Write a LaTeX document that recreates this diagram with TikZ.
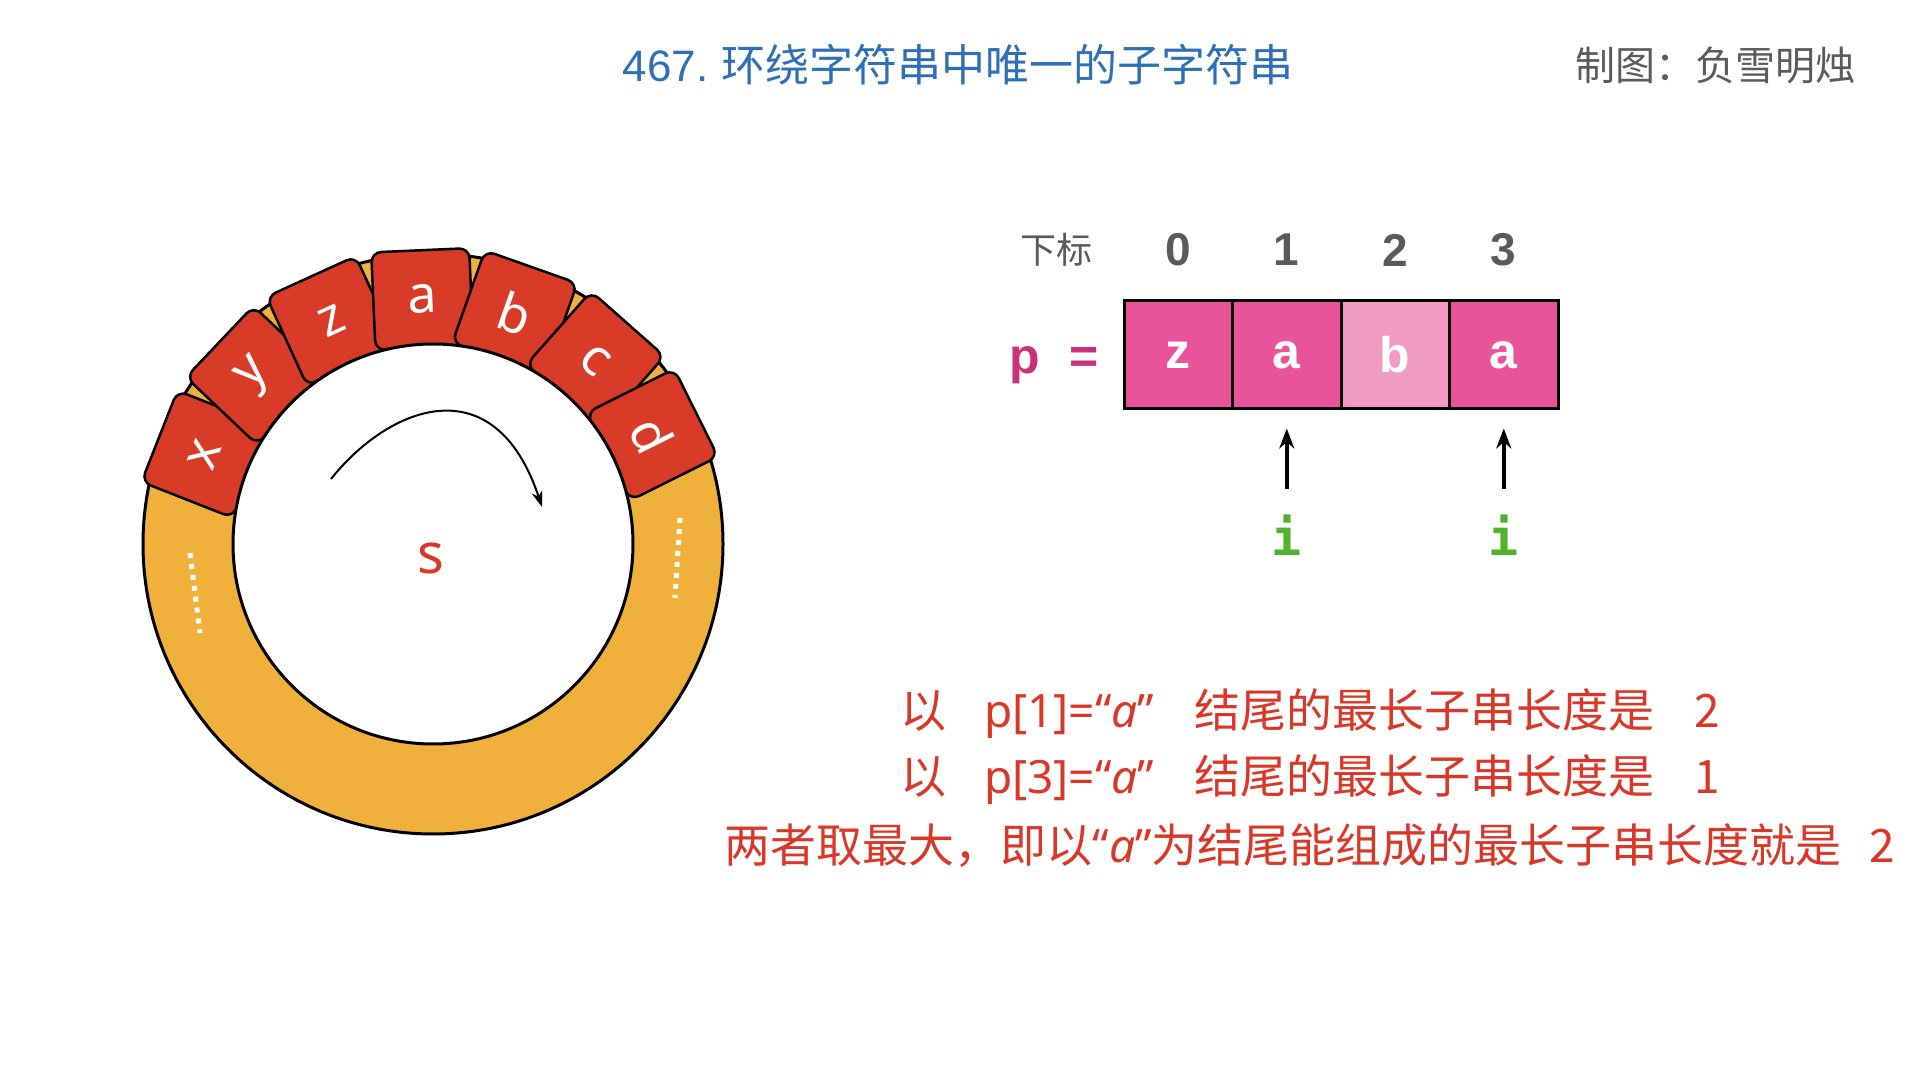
\documentclass[tikz,border=0pt]{standalone}
\usepackage{fontspec}
\setmainfont{Noto Sans CJK SC}
\newfontfamily\latinfont{Noto Sans}
\newfontfamily\arialfont{Liberation Sans}
\newfontfamily\codefont{DejaVu Sans Mono}
\usetikzlibrary{positioning, arrows.meta}
\newcommand{\fsz}[1]{\fontsize{#1}{#1}\selectfont}
\newcommand{\qa}{{\latinfont “\itshape a\upshape”}}
\definecolor{ringorange}{HTML}{F0B03C}
\definecolor{tilered}{HTML}{D83B27}
\definecolor{cellpink}{HTML}{E95399}
\definecolor{lightpink}{HTML}{F09AC4}
\definecolor{titleblue}{HTML}{2E6FB5}
\definecolor{idxgray}{HTML}{5A5A5A}
\definecolor{pgreen}{HTML}{52B22E}
\definecolor{pmagenta}{HTML}{C8327A}
\definecolor{textred}{HTML}{D93828}
\begin{document}
\begin{tikzpicture}[x=1pt, y=1pt, node distance = 108.5pt, auto,
  tile/.style = {draw, line width=2.5pt, fill=tilered, rounded corners=10pt,
    minimum size=98pt, inner sep=0pt, text=white, font=\latinfont\fsz{52}},
  cell/.style = {draw, line width=3pt, fill=cellpink, minimum width=108.5pt,
    minimum height=108pt, inner sep=0pt, text=white, font=\arialfont\bfseries\fsz{50}},
  idx/.style = {text=idxgray, font=\arialfont\bfseries\fsz{46}},
  ptr/.style = {text=pgreen, font=\codefont\bfseries\fsz{50}},
  note/.style = {text=textred, font=\fsz{46}},
  pointer/.style = {line width=3.5pt, -{Stealth[length=20pt, width=15pt]}}]
     \useasboundingbox (0,0) rectangle (1920,1080);
     % the ring
     \coordinate (O) at (433,536);
     \draw[line width=3pt, fill=ringorange] (O) circle (290);
     \foreach \ch [count=\k] in {x,y,z,a,b,c,d} {
       \pgfmathsetmacro\ang{158.5-22*(\k-1)}
       \pgfmathsetmacro\rot{\ang-90}
       \node[tile, rotate=\rot] (t\k) at ([shift={(\ang:245)}]O) {\ch};
     }
     \draw[line width=3pt, fill=white] (O) circle (200);
     \draw[white, line width=5pt, dash pattern=on 5pt off 6pt] (190,527) -- (200,447);
     \draw[white, line width=5pt, dash pattern=on 5pt off 6pt] (680,562) -- (675,482);
     \coordinate (arcstart) at (331,601);
     \coordinate (arcend) at (542,573);
     \draw[line width=2pt, -{Stealth[length=16pt, width=11pt]}]
       (arcstart) .. controls (390,675) and (495,715) .. (arcend);
     \node[text=textred, font=\latinfont\fsz{56}] (s) at (431,522) {s};
     % the titles
     \node[text=titleblue, font=\fsz{44}] (title) at (958,1015) {{\arialfont 467.} 环绕字符串中唯一的子字符串};
     \node[text=idxgray, font=\fsz{40}] (author) at (1715,1015) {制图：负雪明烛};
     % the array
     \node[cell] (c0) at (1178.25,725) {z};
     \node[cell] (c1) [right of = c0] {a};
     \node[cell, fill=lightpink] (c2) [right of = c1] {b};
     \node[cell] (c3) [right of = c2] {a};
     \node[idx] (n0) [above of = c0, node distance = 105pt] {0};
     \node[idx] (n1) [above of = c1, node distance = 105pt] {1};
     \node[idx] (n2) [above of = c2, node distance = 105pt] {2};
     \node[idx] (n3) [above of = c3, node distance = 105pt] {3};
     \node[text=idxgray, font=\fsz{36}] (subscript) [left of = n0, node distance = 122pt] {下标};
     \node[text=pmagenta, font=\arialfont\bfseries\fsz{50}, yshift=-10pt] (p) [left of = c0, node distance = 124pt] {p\hspace{30pt}=};
     \node[ptr] (i1) [below of = c1, node distance = 180pt] {i};
     \node[ptr] (i3) [below of = c3, node distance = 180pt] {i};
     % the arrows
     \draw[pointer] ([yshift=22pt]i1.north) to ([yshift=-18pt]c1.south);
     \draw[pointer] ([yshift=22pt]i3.north) to ([yshift=-18pt]c3.south);
     % the notes
     \node[note] (line1) at (1310,366) {以\hspace{38pt}{\latinfont p[1]=}\qa\hspace{40pt}结尾的最长子串长度是\hspace{40pt}2};
     \node[note] (line2) at (1310,300) {以\hspace{38pt}{\latinfont p[3]=}\qa\hspace{40pt}结尾的最长子串长度是\hspace{40pt}1};
     \node[note] (line3) at (1310,234) {两者取最大，即以\qa 为结尾能组成的最长子串长度就是\hspace{28pt}2};
\end{tikzpicture}
\end{document}
